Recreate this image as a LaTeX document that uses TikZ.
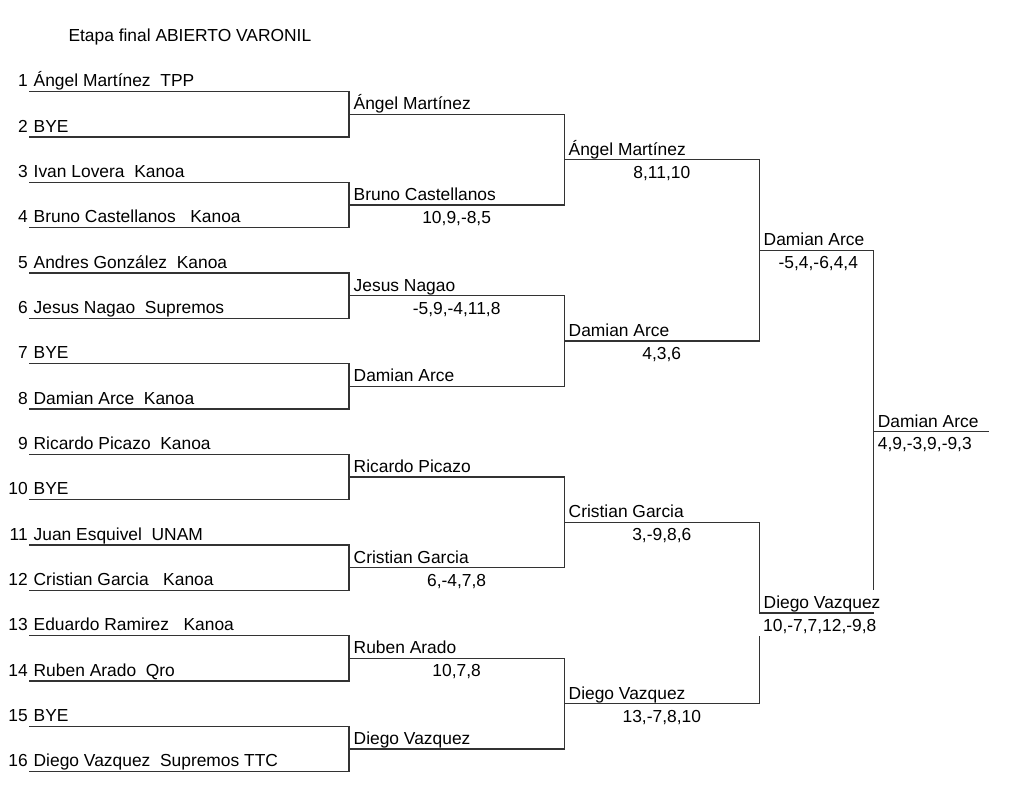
\documentclass[tikz,border=0pt]{standalone}
\usepackage{fontspec}
\setmainfont{Liberation Sans}
\usetikzlibrary{calc}
\newcommand\brfont{\fontsize{17.4}{20}\selectfont}
\tikzset{
  bline/.style={draw=black!80, line width=1.1pt, line cap=rect},
  lbl/.style={inner sep=0pt, font=\brfont, text=black},
  entry/.style={lbl, anchor=base west},
  winner/.style={lbl, anchor=base west},
  score/.style={lbl, anchor=base},
  mname/.style={fill=white, text height=18.5pt, text depth=3.9pt},
  mscore/.style={fill=white, inner xsep=4.5pt, text height=17.3pt, text depth=4.7pt}
}
\begin{document}
\begin{tikzpicture}[x=1pt,y=-1pt]
\useasboundingbox (0,0) rectangle (1024,799);
% slot coordinates
\foreach \k in {1,...,16}{
  \pgfmathsetmacro\yy{91.7+(\k-1)*45.333}
  \coordinate (a\k-l) at (29.3,\yy);
  \coordinate (a\k-r) at (349,\yy);
}
\foreach \m in {1,...,8}{
  \pgfmathsetmacro\yy{114.3+(\m-1)*90.667}
  \coordinate (b\m-l) at (349,\yy);
  \coordinate (b\m-r) at (564.3,\yy);
}
\foreach \m in {1,...,4}{
  \pgfmathsetmacro\yy{159.7+(\m-1)*181.333}
  \coordinate (c\m-l) at (564.3,\yy);
  \coordinate (c\m-r) at (759.3,\yy);
}
\foreach \m in {1,2}{
  \pgfmathsetmacro\yy{250.3+(\m-1)*362.667}
  \coordinate (d\m-l) at (759.3,\yy);
  \coordinate (d\m-r) at (873.3,\yy);
}
\coordinate (f-l) at (873.3,431.7);
\coordinate (f-r) at (988,431.7);
% bracket lines
\foreach \m in {1,...,8}{
  \pgfmathtruncatemacro\i{2*\m-1}
  \pgfmathtruncatemacro\j{2*\m}
  \draw[bline] (a\i-l) -- (a\i-r) -- (a\j-r) -- (a\j-l);
  \draw[bline] (b\m-l) -- (b\m-r);
}
\foreach \m in {1,...,4}{
  \pgfmathtruncatemacro\i{2*\m-1}
  \pgfmathtruncatemacro\j{2*\m}
  \draw[bline] (b\i-r) -- (b\j-r);
  \draw[bline] (c\m-l) -- (c\m-r);
}
\foreach \m in {1,2}{
  \pgfmathtruncatemacro\i{2*\m-1}
  \pgfmathtruncatemacro\j{2*\m}
  \draw[bline] (c\i-r) -- (c\j-r);
  \draw[bline] (d\m-l) -- (d\m-r);
}
\draw[bline] (d1-r) -- (d2-r);
\draw[bline] (f-l) -- (f-r);
% title
\node[lbl, anchor=base west] (title) at (68.3,42) {Etapa final ABIERTO VARONIL};
% entries
\node[entry] (n1) at ($(a1-l)+(4.2,-5)$) {\llap{1\hspace{6pt}}Ángel Martínez\ \ TPP};
\node[entry] (n2) at ($(a2-l)+(4.2,-5)$) {\llap{2\hspace{6pt}}BYE};
\node[entry] (n3) at ($(a3-l)+(4.2,-5)$) {\llap{3\hspace{6pt}}Ivan Lovera\ \ Kanoa};
\node[entry] (n4) at ($(a4-l)+(4.2,-5)$) {\llap{4\hspace{6pt}}Bruno Castellanos\ \ \ Kanoa};
\node[entry] (n5) at ($(a5-l)+(4.2,-5)$) {\llap{5\hspace{6pt}}Andres González\ \ Kanoa};
\node[entry] (n6) at ($(a6-l)+(4.2,-5)$) {\llap{6\hspace{6pt}}Jesus Nagao\ \ Supremos};
\node[entry] (n7) at ($(a7-l)+(4.2,-5)$) {\llap{7\hspace{6pt}}BYE};
\node[entry] (n8) at ($(a8-l)+(4.2,-5)$) {\llap{8\hspace{6pt}}Damian Arce\ \ Kanoa};
\node[entry] (n9) at ($(a9-l)+(4.2,-5)$) {\llap{9\hspace{6pt}}Ricardo Picazo\ \ Kanoa};
\node[entry] (n10) at ($(a10-l)+(4.2,-5)$) {\llap{10\hspace{6pt}}BYE};
\node[entry] (n11) at ($(a11-l)+(4.2,-5)$) {\llap{11\hspace{6pt}}Juan Esquivel\ \ UNAM};
\node[entry] (n12) at ($(a12-l)+(4.2,-5)$) {\llap{12\hspace{6pt}}Cristian Garcia\ \ \ Kanoa};
\node[entry] (n13) at ($(a13-l)+(4.2,-5)$) {\llap{13\hspace{6pt}}Eduardo Ramirez\ \ \ Kanoa};
\node[entry] (n14) at ($(a14-l)+(4.2,-5)$) {\llap{14\hspace{6pt}}Ruben Arado\ \ Qro};
\node[entry] (n15) at ($(a15-l)+(4.2,-5)$) {\llap{15\hspace{6pt}}BYE};
\node[entry] (n16) at ($(a16-l)+(4.2,-5)$) {\llap{16\hspace{6pt}}Diego Vazquez\ \ Supremos TTC};
% round 2
\node[winner] (w1) at ($(b1-l)+(4.5,-4.5)$) {Ángel Martínez};
\node[winner] (w2) at ($(b2-l)+(4.5,-4.5)$) {Bruno Castellanos};
\node[winner] (w3) at ($(b3-l)+(4.5,-4.5)$) {Jesus Nagao};
\node[winner] (w4) at ($(b4-l)+(4.5,-4.5)$) {Damian Arce};
\node[winner] (w5) at ($(b5-l)+(4.5,-4.5)$) {Ricardo Picazo};
\node[winner] (w6) at ($(b6-l)+(4.5,-4.5)$) {Cristian Garcia};
\node[winner] (w7) at ($(b7-l)+(4.5,-4.5)$) {Ruben Arado};
\node[winner] (w8) at ($(b8-l)+(4.5,-4.5)$) {Diego Vazquez};
\node[score] (s2) at ($(b2-l)!0.5!(b2-r)+(0,18.5)$) {10,9,-8,5};
\node[score] (s3) at ($(b3-l)!0.5!(b3-r)+(0,18.5)$) {-5,9,-4,11,8};
\node[score] (s6) at ($(b6-l)!0.5!(b6-r)+(0,18.5)$) {6,-4,7,8};
\node[score] (s7) at ($(b7-l)!0.5!(b7-r)+(0,18.5)$) {10,7,8};
% round 3
\node[winner] (x1) at ($(c1-l)+(4.2,-4.5)$) {Ángel Martínez};
\node[winner] (x2) at ($(c2-l)+(4.2,-4.5)$) {Damian Arce};
\node[winner] (x3) at ($(c3-l)+(4.2,-4.5)$) {Cristian Garcia};
\node[winner] (x4) at ($(c4-l)+(4.2,-4.5)$) {Diego Vazquez};
\node[score] (t1) at ($(c1-l)!0.5!(c1-r)+(0,18.5)$) {8,11,10};
\node[score] (t2) at ($(c2-l)!0.5!(c2-r)+(0,18.5)$) {4,3,6};
\node[score] (t3) at ($(c3-l)!0.5!(c3-r)+(0,18.5)$) {3,-9,8,6};
\node[score] (t4) at ($(c4-l)!0.5!(c4-r)+(0,18.5)$) {13,-7,8,10};
% semifinal
\node[winner] (y1) at ($(d1-l)+(4.2,-4.5)$) {Damian Arce};
\node[winner, mname] (y2) at ($(d2-l)+(4.2,-4.5)$) {Diego Vazquez};
\node[score] (u1) at ($(d1-l)!0.5!(d1-r)+(2,18.5)$) {-5,4,-6,4,4};
\node[lbl, anchor=base west, mscore] (u2) at ($(d2-l)+(-0.8,18.3)$) {10,-7,7,12,-9,8};
% final
\node[winner] (z) at ($(f-l)+(4.4,-4.5)$) {Damian Arce};
\node[lbl, anchor=base west] (v) at ($(f-l)+(4.4,17.6)$) {4,9,-3,9,-9,3};
\end{tikzpicture}
\end{document}
